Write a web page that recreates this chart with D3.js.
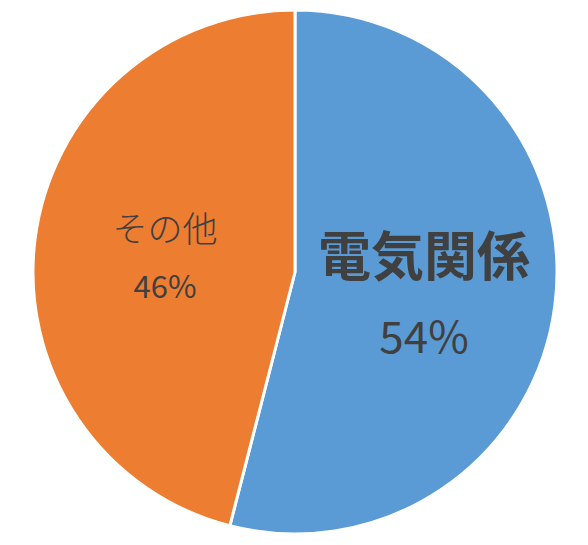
<!DOCTYPE html>
<html>
<head>
<meta charset="utf-8">
<script src="https://cdn.jsdelivr.net/npm/d3@7"></script>
<style>
  body { margin: 0; background: #fff; }
</style>
</head>
<body>
<div id="chart"></div>
<script>
// data
var categories = ["電気関係", "その他"];
var values = [54, 46];
var labels = ["54%", "46%"];
var colors = ["#5B9BD5", "#ED7D31"];

var svgWidth = 588;
var svgHeight = 545;
var cx = 295, cy = 272, radius = 262;

var svg = d3.select("#chart")
    .append("svg")
    .attr("width", svgWidth)
    .attr("height", svgHeight);

var chart = svg.append("g")
    .attr("transform", `translate(${cx}, ${cy})`);

var pie = d3.pie().sort(null).value(d => d);
var arcs = pie(values);

var arc = d3.arc().innerRadius(0).outerRadius(radius);

chart.selectAll("path")
    .data(arcs)
    .enter()
    .append("path")
    .attr("d", arc)
    .attr("fill", (d, i) => colors[i])
    .attr("stroke", "#fff")
    .attr("stroke-width", 3)
    .attr("stroke-linejoin", "round");

// label placement, relative to pie centre
var labelPos = [[129, 18], [-130, -4]];
var nameStyle = [
    {size: 53, weight: "bold", dy: -14},
    {size: 35, weight: "300", dy: -26}
];
var valStyle = [
    {size: 44, dy: 63},
    {size: 31, dy: 30}
];

var font = "'Noto Sans CJK JP', 'Noto Sans', sans-serif";

arcs.forEach(function (d, i) {
    var pos = labelPos[i];
    chart.append("text")
        .attr("x", pos[0])
        .attr("y", pos[1] + nameStyle[i].dy)
        .attr("text-anchor", "middle")
        .style("font-family", font)
        .style("font-size", nameStyle[i].size + "px")
        .style("font-weight", nameStyle[i].weight)
        .style("fill", "#404040")
        .text(categories[i]);
    chart.append("text")
        .attr("x", pos[0])
        .attr("y", pos[1] + valStyle[i].dy)
        .attr("text-anchor", "middle")
        .style("font-family", font)
        .style("font-size", valStyle[i].size + "px")
        .style("fill", "#404040")
        .text(labels[i]);
});
</script>
</body>
</html>
